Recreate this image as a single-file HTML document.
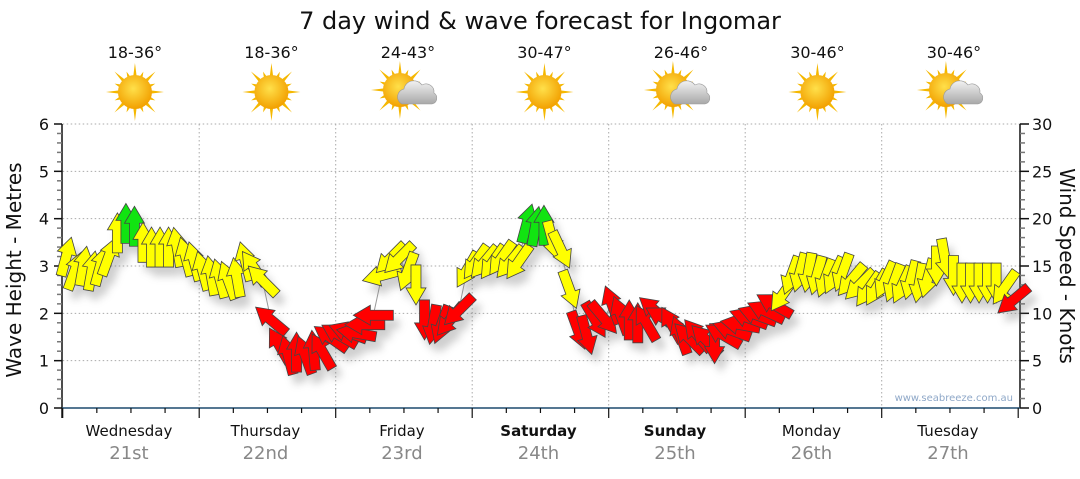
<!DOCTYPE html>
<html><head><meta charset="utf-8">
<style>
body{margin:0;background:#fff;width:1080px;height:475px;overflow:hidden;font-family:"DejaVu Sans","Liberation Sans",sans-serif;}
svg text{font-family:"DejaVu Sans","Liberation Sans",sans-serif;}
</style></head>
<body>
<svg id="chart" width="1080" height="475" viewBox="0 0 1080 475" xmlns="http://www.w3.org/2000/svg">
<defs>
<filter id="sh" x="-50%" y="-50%" width="200%" height="200%"><feGaussianBlur stdDeviation="4"/></filter>
<radialGradient id="sunG" cx="45%" cy="40%" r="60%"><stop offset="0" stop-color="#ffe04a"/><stop offset="1" stop-color="#f2a000"/></radialGradient>
<linearGradient id="cloudG" x1="0" y1="0" x2="0" y2="1"><stop offset="0" stop-color="#f2f2f2"/><stop offset="1" stop-color="#a8a8a8"/></linearGradient>
</defs>
<text x="540" y="29" text-anchor="middle" font-size="24" fill="#111">7 day wind &amp; wave forecast for Ingomar</text>
<g id="header"></g>
<g id="grid"></g>
<g id="axes"></g>
<g id="series"></g>
<text x="1013" y="401" text-anchor="end" font-size="10" fill="#8fa8c8">www.seabreeze.com.au</text>
<text transform="translate(21,270) rotate(-90)" text-anchor="middle" font-size="20" fill="#111">Wave Height - Metres</text>
<text transform="translate(1060,266) rotate(90)" text-anchor="middle" font-size="20" fill="#111">Wind Speed - Knots</text>
</svg>
<script>
const days = ["Wednesday","Thursday","Friday","Saturday","Sunday","Monday","Tuesday"];
const dates = ["21st","22nd","23rd","24th","25th","26th","27th"];
const boldDays = [false,false,false,true,true,false,false];
const temps = ["18-36°","18-36°","24-43°","30-47°","26-46°","30-46°","30-46°"];
const cloudy = [false,false,true,false,true,false,true];
const waveTicks = [0,1,2,3,4,5,6];
const windTicks = [0,5,10,15,20,25,30];
const windSpeed = [
16,14.5,15,14.5,15,16,18.5,19.5,19.2,17.5,17,17,17,17,16,15.5,
14.5,14,13.7,13.5,13.8,15.5,14.8,13.5,9.3,6.6,5.6,5.9,5.6,6.1,6,7.4,
7.7,8,7.9,8.8,9.8,14,15.8,15.8,14.4,13,9.3,8.8,8.8,9.3,10.3,14.6,
15.4,15.4,15.4,15.8,15.4,15.4,19.5,19.2,19.3,17.7,16.7,12.5,8.2,7.7,9.3,9.5,
10.9,9.8,9.3,9,9,10.3,9.5,8.8,7.7,7.4,7.7,7.2,6.8,7.7,8.2,8.8,
9.5,9.8,10.2,10.9,12,14,14.3,14.3,14,13.7,14,14.3,13.5,13,12.5,12.7,
13.5,13.2,13,13.5,13.2,13.7,15,15.8,14,13.2,13.2,13.2,13.2,13.2,12.7,11.4];
const windDir = [
15,20,10,10,15,20,0,0,0,0,0,0,0,-10,-15,-15,
-15,-10,-15,-20,-10,-15,-35,-45,-50,-30,-15,0,-20,-5,-30,-55,
-60,-70,-80,-90,-90,-105,-135,-135,200,180,180,190,200,220,225,210,
215,220,215,215,220,215,15,10,0,165,155,160,160,165,150,140,
-20,-20,0,0,-30,-50,-60,-30,-20,-45,-40,-45,180,-60,-70,-80,
-70,-70,-65,-60,215,200,195,190,195,200,205,200,220,225,215,210,
205,200,205,195,190,195,180,170,180,180,180,180,180,180,215,230];

const NS="http://www.w3.org/2000/svg";
const X0=62.7, DAYW=136.5, YTOP=124, YBOT=408;
const xScale = h => X0 + h*DAYW/24;
const yWave = m => YBOT - m*(YBOT-YTOP)/6;
const yWind = k => YBOT - k*(YBOT-YTOP)/30;
function mk(tag, attrs, parent){const e=document.createElementNS(NS,tag);for(const k in attrs)e.setAttribute(k,attrs[k]);parent.appendChild(e);return e;}
const header=document.getElementById('header'), grid=document.getElementById('grid'), axes=document.getElementById('axes'), series=document.getElementById('series');

for(let d=1; d<7; d++){
  const l=mk('line',{x1:xScale(d*24),x2:xScale(d*24),y1:YTOP,y2:YBOT,stroke:'#aaa','stroke-dasharray':'1.5,2.5'},grid);
  
  
}
for(const m of waveTicks){ if(m===0) continue;
  const l=mk('line',{x1:X0,x2:1020,y1:yWave(m),y2:yWave(m),stroke:'#aaa','stroke-dasharray':'1.5,2.5'},grid);
  
  
}
mk('line',{x1:62,x2:62,y1:YTOP,y2:YBOT+10,stroke:'#111','stroke-width':1.5},axes);
mk('line',{x1:1020,x2:1020,y1:YTOP,y2:YBOT,stroke:'#111','stroke-width':1.5},axes);
mk('line',{x1:62,x2:1020,y1:YBOT,y2:YBOT,stroke:'#1d4a6e','stroke-width':1.5},axes);
for(let i=0;i<=30;i++){
  const m=i*0.2, y=yWave(m), major=(i%5===0);
  mk('line',{x1:major?54:57,x2:62,y1:y,y2:y,stroke:major?'#111':'#777','stroke-width':1.5},axes);
}
for(const m of waveTicks){
  const t=mk('text',{x:49,y:yWave(m)+6,'text-anchor':'end','font-size':16,fill:'#111'},axes);
  t.textContent=m;
  
  
}
for(let k=0;k<=30;k++){
  const y=yWind(k), major=(k%5===0);
  mk('line',{x1:1020,x2:major?1029:1025,y1:y,y2:y,stroke:major?'#111':'#777','stroke-width':1.5},axes);
}
for(const k of windTicks){
  const t=mk('text',{x:1032,y:yWind(k)+6,'text-anchor':'start','font-size':16,fill:'#111'},axes);
  t.textContent=k;
  
  
}
for(let h=0;h<=168;h+=6){
  const major=(h%24===0);
  mk('line',{x1:xScale(h),x2:xScale(h),y1:YBOT,y2:YBOT+(major?10:5),stroke:'#111','stroke-width':1.2},axes);
}
days.forEach((d,i)=>{
  const cx=xScale(i*24+12);
  const t=mk('text',{x:cx-2,y:436,'text-anchor':'middle','font-size':15,fill:'#111','font-weight':boldDays[i]?'bold':'normal'},axes);
  t.textContent=d;
  
  
  const t2=mk('text',{x:cx-2,y:459,'text-anchor':'middle','font-size':18,fill:'#888'},axes);
  t2.textContent=dates[i];
  
  
  const hx=cx+4;
  const tt=mk('text',{x:hx,y:58,'text-anchor':'middle','font-size':16,fill:'#111'},header);
  tt.textContent=temps[i];
  
  
  const g=mk('g',{},header);
  
  
  const sx=cloudy[i]?hx-8:hx, sy=cloudy[i]?90:92;
  for(let r=0;r<16;r++){
    const a=r*Math.PI/8, L=(r%2?22:29);
    const p1x=sx+Math.cos(a-0.12)*15, p1y=sy+Math.sin(a-0.12)*15, p2x=sx+Math.cos(a+0.12)*15, p2y=sy+Math.sin(a+0.12)*15;
    mk('polygon',{points:`${p1x},${p1y} ${sx+Math.cos(a)*L},${sy+Math.sin(a)*L} ${p2x},${p2y}`,fill:'#f5b800'},g);
  }
  mk('circle',{cx:sx,cy:sy,r:17,fill:'url(#sunG)'},g);
  if(cloudy[i]){
    mk('path',{d:`M${hx-6},${sy+14} a8,8 0 0 1 2,-15 a10,10 0 0 1 18,-4 a8,8 0 0 1 12,8 a6,6 0 0 1 -2,11 z`,fill:'url(#cloudG)',stroke:'#999','stroke-width':0.6},g);
  }
});

const pts=windSpeed.map((v,i)=>[xScale(i*1.5)+3.5, yWind(v)]);
const lineEl=mk('polyline',{points:pts.map(p=>p.join(',')).join(' '),fill:'none',stroke:'#999','stroke-width':1},series);


const shadow=mk('g',{filter:'url(#sh)',opacity:0.35},series);
const shape="M0,-20 L10,-3 L5,-3 L5,20 L-5,20 L-5,-3 L-10,-3 Z";
windSpeed.forEach((v,i)=>{
  const [x,y]=pts[i];
  mk('path',{d:shape,fill:'#777',transform:`translate(${x+6},${y+9}) rotate(${windDir[i]})`},shadow);
});
windSpeed.forEach((v,i)=>{
  const [x,y]=pts[i];
  const col = v>=19 ? '#11e411' : (v>=11.5 ? '#ffff00' : '#ff0000');
  const a=mk('path',{d:shape,fill:col,stroke:'#444','stroke-width':0.8,transform:`translate(${x},${y}) rotate(${windDir[i]})`},series);
  
  
});
</script>
</body></html>
